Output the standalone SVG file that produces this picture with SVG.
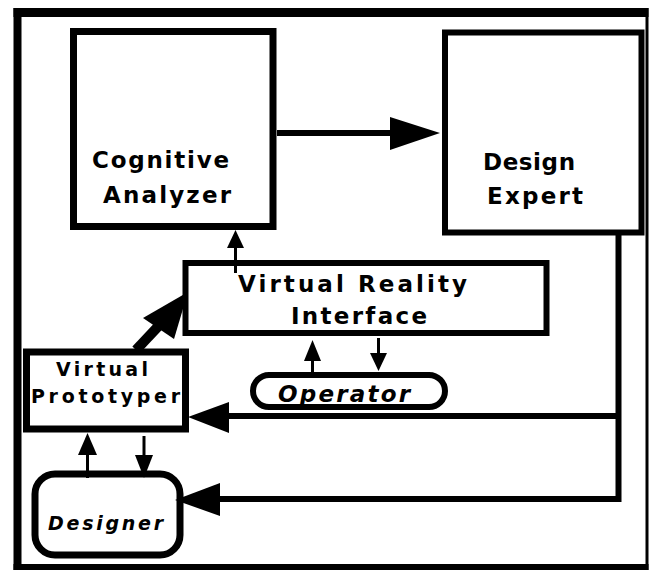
<svg xmlns="http://www.w3.org/2000/svg" width="650" height="571" viewBox="0 0 650 571">
<style>
.box{fill:#fff;stroke:#000;}
.t{font-family:"DejaVu Sans","Liberation Sans",sans-serif;font-weight:bold;fill:#000;}
.big{font-size:23px;}
.small{font-size:19px;}
.it{font-style:italic;}
.ul{text-decoration:underline;}
.ln{fill:none;stroke:#000;}
.hd{fill:#000;stroke:none;}
</style>
<rect width="650" height="571" fill="#fff"/>
<g id="frame" class="ln">
<line x1="17.5" y1="8" x2="17.5" y2="570" stroke-width="8"/>
<line x1="13.5" y1="12.5" x2="648.5" y2="12.5" stroke-width="9"/>
<line x1="647" y1="8" x2="647" y2="570" stroke-width="3"/>
<line x1="13.5" y1="567" x2="648.5" y2="567" stroke-width="6"/>
</g>
<g id="cognitive-analyzer">
<rect class="box" x="73.5" y="31.5" width="199.5" height="195" stroke-width="7"/>
<text class="t big" x="92" y="168" textLength="137" lengthAdjust="spacing">Cognitive</text>
<text class="t big" x="103" y="203" textLength="128" lengthAdjust="spacing">Analyzer</text>
</g>
<g id="design-expert">
<rect class="box" x="445" y="32.5" width="196.5" height="200" stroke-width="6"/>
<text class="t big" x="483" y="170" textLength="92" lengthAdjust="spacing">Design</text>
<text class="t big" x="487" y="204" textLength="96" lengthAdjust="spacing">Expert</text>
</g>
<g id="virtual-reality-interface">
<rect class="box" x="185.5" y="263" width="361" height="70" stroke-width="6"/>
<text class="t big" x="238" y="292" textLength="229" lengthAdjust="spacing">Virtual Reality</text>
<text class="t big" x="291" y="324" textLength="136" lengthAdjust="spacing">Interface</text>
</g>
<g id="operator">
<rect class="box" x="253" y="375" width="192" height="32" rx="16" stroke-width="6"/>
<text class="t big it ul" x="278" y="402" textLength="132" lengthAdjust="spacing">Operator</text>
</g>
<g id="virtual-prototyper">
<rect class="box" x="26.5" y="352" width="159" height="77" stroke-width="7"/>
<text class="t small" x="56" y="376" textLength="92" lengthAdjust="spacing">Virtual</text>
<text class="t small" x="31" y="403" textLength="149" lengthAdjust="spacing">Prototyper</text>
</g>
<g id="designer">
<rect class="box" x="35" y="474" width="145" height="81" rx="20" stroke-width="7"/>
<text class="t small it" x="48" y="530" textLength="115" lengthAdjust="spacing">Designer</text>
</g>
<g id="connectors">
<line class="ln" x1="277" y1="133" x2="392" y2="133" stroke-width="6"/>
<polygon class="hd" points="390,117 440,133 390,150"/>
<line class="ln" x1="235.5" y1="273" x2="235.5" y2="246" stroke-width="3"/>
<polygon class="hd" points="227,248 235.5,230 244,248"/>
<line class="ln" x1="136" y1="350" x2="168" y2="316" stroke-width="10"/>
<polygon class="hd" points="188,292 174,339 143,318"/>
<line class="ln" x1="378.5" y1="338" x2="378.5" y2="356" stroke-width="3"/>
<polygon class="hd" points="370,353 387,353 378.5,371"/>
<line class="ln" x1="312.5" y1="373" x2="312.5" y2="358" stroke-width="3"/>
<polygon class="hd" points="304,361 321,361 312.5,340"/>
<path class="ln" d="M618.5 235 V499 H218" stroke-width="6"/>
<path class="ln" d="M618.5 416 H226" stroke-width="6"/>
<polygon class="hd" points="229,402 188,417 229,433"/>
<polygon class="hd" points="220,483 175,500 220,516"/>
<line class="ln" x1="87.5" y1="478" x2="87.5" y2="452" stroke-width="3"/>
<polygon class="hd" points="78,455 97,455 87.5,433"/>
<line class="ln" x1="144" y1="436" x2="144" y2="458" stroke-width="3"/>
<polygon class="hd" points="135,455 153,455 144,478"/>
</g>
</svg>
